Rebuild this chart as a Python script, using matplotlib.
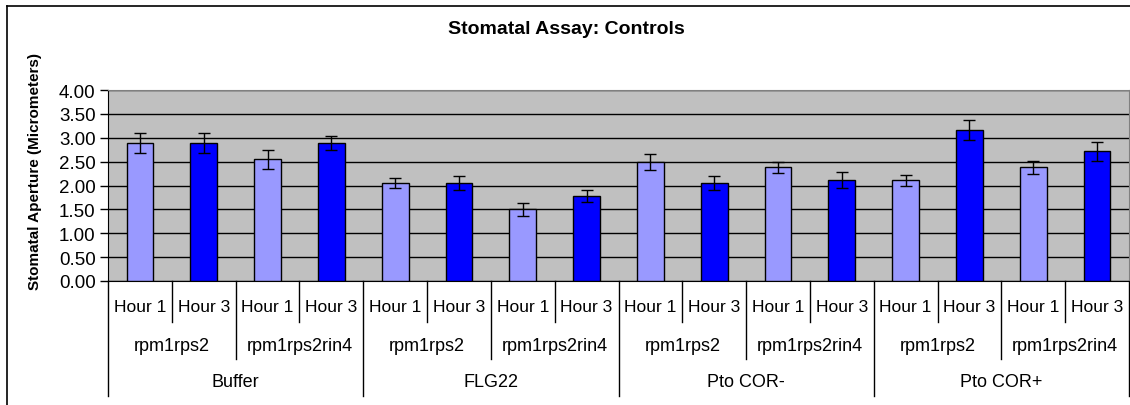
import matplotlib

matplotlib.use("Agg")
import matplotlib.pyplot as plt
from matplotlib.lines import Line2D
from matplotlib.transforms import blended_transform_factory
import numpy as np

plt.rcParams["font.family"] = ["Liberation Sans", "DejaVu Sans"]

treatments = ["Buffer", "FLG22", "Pto COR-", "Pto COR+"]
genotypes = ["rpm1rps2", "rpm1rps2rin4"]
hours = ["Hour 1", "Hour 3"]

# one value per bar, ordered treatment > genotype > hour
means = [2.89, 2.89, 2.55, 2.89,
         2.05, 2.05, 1.50, 1.78,
         2.50, 2.05, 2.38, 2.11,
         2.11, 3.16, 2.38, 2.72]
errs = [0.21, 0.20, 0.20, 0.14,
        0.11, 0.15, 0.14, 0.13,
        0.17, 0.15, 0.11, 0.17,
        0.11, 0.21, 0.13, 0.20]

hour_colors = {"Hour 1": "#9999FF", "Hour 3": "#0000FF"}

W, H = 1130, 406
fig = plt.figure(figsize=(W / 100, H / 100), dpi=100)
ax = fig.add_axes([108 / W, 1 - 282 / H, (1129 - 108) / W, (282 - 91) / H])
ax.set_facecolor("#C0C0C0")

n = len(means)
x = np.arange(n)
bar_hours = [hours[i % len(hours)] for i in range(n)]
colors = [hour_colors[h] for h in bar_hours]
ax.bar(x, means, width=0.42, color=colors, edgecolor="black", linewidth=1, zorder=3)
ax.errorbar(x, means, yerr=errs, fmt="none", ecolor="black", elinewidth=1,
            capsize=4, capthick=1, zorder=4)

ax.set_xlim(-0.5, n - 0.5)
ax.set_ylim(0, 4)
ticks = np.arange(0, 4.01, 0.5)
ax.set_yticks(ticks)
ax.set_yticklabels([f"{v:.2f}" for v in ticks], fontsize=13.5)
ax.yaxis.grid(True, color="black", linewidth=1, zorder=1)
ax.set_axisbelow(True)
ax.tick_params(axis="y", length=6, width=1, pad=3)
ax.set_xticks([])
for side in ["top", "right"]:
    ax.spines[side].set_color("#808080")

# multi-level category axis
trans = blended_transform_factory(ax.transData, fig.transFigure)
fy = lambda py: 1 - py / H
for i, h in enumerate(bar_hours):
    ax.text(i, fy(308), h, transform=trans, ha="center", va="center", fontsize=12.5)
ng = len(hours)
for j in range(n // ng):
    g = genotypes[j % len(genotypes)]
    ax.text(j * ng + (ng - 1) / 2, fy(347), g, transform=trans, ha="center",
            va="center", fontsize=13)
nt = ng * len(genotypes)
for k, t in enumerate(treatments):
    ax.text(k * nt + (nt - 1) / 2, fy(383), t, transform=trans, ha="center",
            va="center", fontsize=13)

for b in range(n + 1):
    if b % nt == 0:
        end = 397
    elif b % ng == 0:
        end = 360
    else:
        end = 323
    ax.add_line(Line2D([b - 0.5, b - 0.5], [fy(282), fy(end)], transform=trans,
                       color="black", linewidth=1, clip_on=False))

fig.text(566 / W, fy(30), "Stomatal Assay: Controls", ha="center", va="center",
         fontsize=14, fontweight="bold")
fig.text(35 / W, fy(171), "Stomatal Aperture (Micrometers)", ha="center",
         va="center", rotation=90, fontsize=11, fontweight="bold")

# chart frame (only top and left edges visible)
fig.add_artist(Line2D([7 / W, 1], [fy(7), fy(7)], transform=fig.transFigure,
                      color="black", linewidth=1.2))
fig.add_artist(Line2D([7 / W, 7 / W], [0, fy(7)], transform=fig.transFigure,
                      color="black", linewidth=1.2))

fig.savefig("out.png", dpi=100)
